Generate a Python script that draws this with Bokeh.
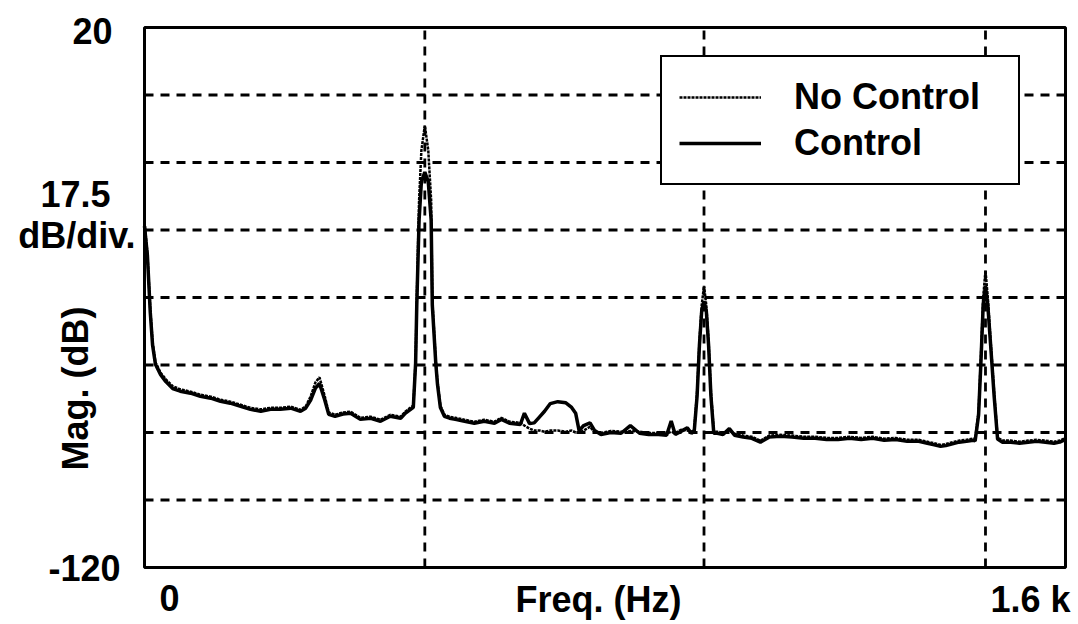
from bokeh.plotting import figure
from bokeh.models import Range1d, Label, Legend, LegendItem
from bokeh.embed import file_html
from bokeh.resources import INLINE
import math

# ---- data (frequency in Hz, magnitude in dB) ----
freq = [0, 5, 10, 14, 19, 28, 37, 49, 62, 80, 97, 115, 132, 149, 167, 184, 202, 219, 236, 254,
        271, 280, 289, 297, 304, 313, 320, 331, 345, 358, 375, 393, 410, 427, 445, 453,
        467, 471, 473, 477, 481, 487, 493, 498, 500, 506, 509, 514, 521,
        530, 540, 556, 573, 590, 608, 620, 634, 653, 660, 669, 677, 686, 695, 705, 718, 732, 742, 749,
        755, 763, 774, 782, 793, 810, 828, 844, 860, 876, 893, 907, 915, 922, 932, 943, 950,
        955, 960, 964, 968, 972, 976, 980, 984, 989, 995, 1005, 1016, 1025, 1040, 1055, 1070, 1085,
        1105, 1125, 1145, 1165, 1185, 1205, 1225, 1245, 1265, 1285, 1305, 1325, 1345, 1360, 1372,
        1383, 1392, 1402, 1415, 1428, 1440, 1443, 1449, 1453, 1457, 1461, 1465, 1470, 1476, 1482,
        1490, 1505, 1520, 1535, 1550, 1565, 1580, 1590, 1600]

no_control = [-30.5, -38.6, -53.0, -61.5, -66.8, -69.5, -71.2, -73.0, -73.8, -74.4, -75.2, -75.7, -76.5,
              -77.0, -77.8, -78.6, -79.0, -78.6, -78.6, -78.3, -79.1, -78.3, -75.5, -72.0, -70.7, -75.5,
              -79.8, -80.4, -79.8, -79.6, -81.2, -80.9, -81.7, -80.4, -80.9, -79.6,
              -78.0, -66.3, -50.8, -24.9, -11.9, -5.4, -11.9, -24.9, -50.8, -66.3, -72.0, -78.0, -80.4,
              -80.9, -81.2, -81.7, -82.2, -81.7, -82.2, -81.2, -82.2, -82.5, -83.2, -84.0, -84.5, -84.5,
              -84.8, -84.5, -84.5, -84.8, -84.5, -85.0,
              -85.0, -84.5, -83.5, -85.0, -85.1, -84.6, -84.8, -84.6, -84.8, -85.1, -85.1, -85.3,
              -84.8, -85.1, -84.3, -84.5, -84.8,
              -84.3, -74.5, -61.5, -52.0, -47.0, -52.0, -61.5, -74.5, -84.8, -84.8, -85.1, -84.5,
              -85.3, -85.8, -86.1, -87.1, -85.8,
              -85.6, -85.8, -86.1, -86.1, -86.4, -86.4, -86.1, -86.4, -86.1, -86.6, -86.4, -86.9,
              -86.9, -87.4, -87.8,
              -88.2, -88.0, -87.6, -87.1, -86.9, -86.6, -86.8, -79.5, -65.5, -50.0, -43.0, -50.0,
              -61.5, -74.5, -86.3,
              -87.1, -87.1, -87.4, -87.1, -86.9, -87.1, -87.4, -87.1, -86.4]

control = [-31.5, -39.0, -53.8, -62.3, -67.3, -70.0, -71.8, -73.6, -74.3, -74.8, -75.6, -76.1, -76.9,
           -77.4, -78.2, -79.0, -79.5, -79.0, -79.0, -78.7, -79.5, -78.7, -76.5, -73.5, -72.3, -76.5,
           -80.3, -80.8, -80.2, -80.0, -81.6, -81.3, -82.1, -80.8, -81.3, -80.0,
           -78.5, -67.0, -52.0, -30.0, -20.0, -17.5, -20.0, -30.0, -52.0, -67.0, -72.5, -78.5, -80.8,
           -81.3, -81.6, -82.1, -82.6, -82.1, -82.6, -81.6, -82.6, -82.9, -80.0, -82.7, -82.5, -81.0,
           -79.5, -77.5, -77.0, -77.3, -78.5, -80.0,
           -84.5, -83.2, -82.5, -84.5, -85.5, -85.0, -85.2, -83.2, -85.2, -85.5, -85.5, -85.7,
           -82.0, -85.5, -84.7, -83.8, -85.2,
           -84.7, -75.5, -62.5, -53.5, -51.0, -53.5, -62.5, -75.5, -85.2, -85.2, -85.5, -84.0,
           -85.7, -86.2, -86.5, -87.5, -86.2,
           -86.0, -86.2, -86.5, -86.5, -86.8, -86.8, -86.5, -86.8, -86.5, -87.0, -86.8, -87.3,
           -87.3, -87.8, -88.2,
           -88.6, -88.4, -88.0, -87.5, -87.3, -87.0, -87.2, -80.5, -67.0, -52.0, -47.0, -52.0,
           -62.5, -75.5, -86.7,
           -87.5, -87.5, -87.8, -87.5, -87.3, -87.5, -87.8, -87.5, -86.8]

grid_x = [487, 972, 1461]
grid_y = [-102.5, -85.0, -67.5, -50.0, -32.5, -15.0, 2.5]
x_lim = [0, 1600]
y_lim = [-120, 20]

FONT = "Liberation Sans"

# ---- layout: the plotting box occupies pixels 144..1065 x 27..567 of the canvas ----
W, H = 1076, 622
BOX_L, BOX_R, BOX_T, BOX_B = 144, 1065, 27, 567
sx = (x_lim[1] - x_lim[0]) / (BOX_R - BOX_L)
sy = (y_lim[1] - y_lim[0]) / (BOX_B - BOX_T)
xr = Range1d(x_lim[0] - BOX_L * sx, x_lim[1] + (W - BOX_R) * sx)
yr = Range1d(y_lim[0] - (H - BOX_B) * sy, y_lim[1] + BOX_T * sy)

def px_x(x):
    return x_lim[0] + (x - BOX_L) * sx

def px_y(y):
    return y_lim[1] - (y - BOX_T) * sy

p = figure(width=W, height=H, x_axis_type=None, y_axis_type=None,
           x_range=xr, y_range=yr, output_backend="svg", toolbar_location=None,
           min_border=0, outline_line_color=None,
           background_fill_color="white", border_fill_color="white")

# dashed grid
p.segment(x0=grid_x, y0=[y_lim[0]] * len(grid_x), x1=grid_x, y1=[y_lim[1]] * len(grid_x),
          line_color="black", line_width=2.8, line_dash="9 7")
p.segment(x0=[x_lim[0]] * len(grid_y), y0=grid_y, x1=[x_lim[1]] * len(grid_y), y1=grid_y,
          line_color="black", line_width=2.8, line_dash="9 7")

r_c = p.line(freq, control, line_color="black", line_width=3.5)
r_nc = p.line(freq, no_control, line_color="black", line_width=2.5, line_dash="3 1")

# plotting box border
p.quad(left=[x_lim[0]], right=[x_lim[1]], bottom=[y_lim[0]], top=[y_lim[1]],
       fill_color=None, line_color="black", line_width=3)

legend = Legend(items=[LegendItem(label="No Control", renderers=[r_nc]),
                       LegendItem(label="Control", renderers=[r_c])],
                location=(660, H - 185), orientation="vertical",
                border_line_color="black", border_line_width=2.5, border_line_alpha=1,
                background_fill_color="white", background_fill_alpha=1,
                padding=17, spacing=0, margin=0, glyph_width=82, glyph_height=46,
                label_height=46, label_standoff=33, label_width=207,
                label_text_font=FONT, label_text_font_style="bold",
                label_text_font_size="36px", label_text_color="black")
p.add_layout(legend)

def lab(x, y, text, align="center", angle=0.0):
    p.add_layout(Label(x=px_x(x), y=px_y(y), text=text, text_align=align, text_baseline="middle",
                       angle=angle, text_font=FONT, text_font_style="bold",
                       text_font_size="36px", text_color="black"))

lab(112, 30, "20", "right")
lab(110, 193, "17.5", "right")
lab(135, 235, "dB/div.", "right")
lab(75, 388, "Mag. (dB)", "center", math.pi / 2)
lab(120, 567, "-120", "right")
lab(169, 597, "0", "center")
lab(598, 599, "Freq. (Hz)", "center")
lab(1070, 599, "1.6 k", "right")

open("out.html", "w").write(file_html(p, INLINE))
